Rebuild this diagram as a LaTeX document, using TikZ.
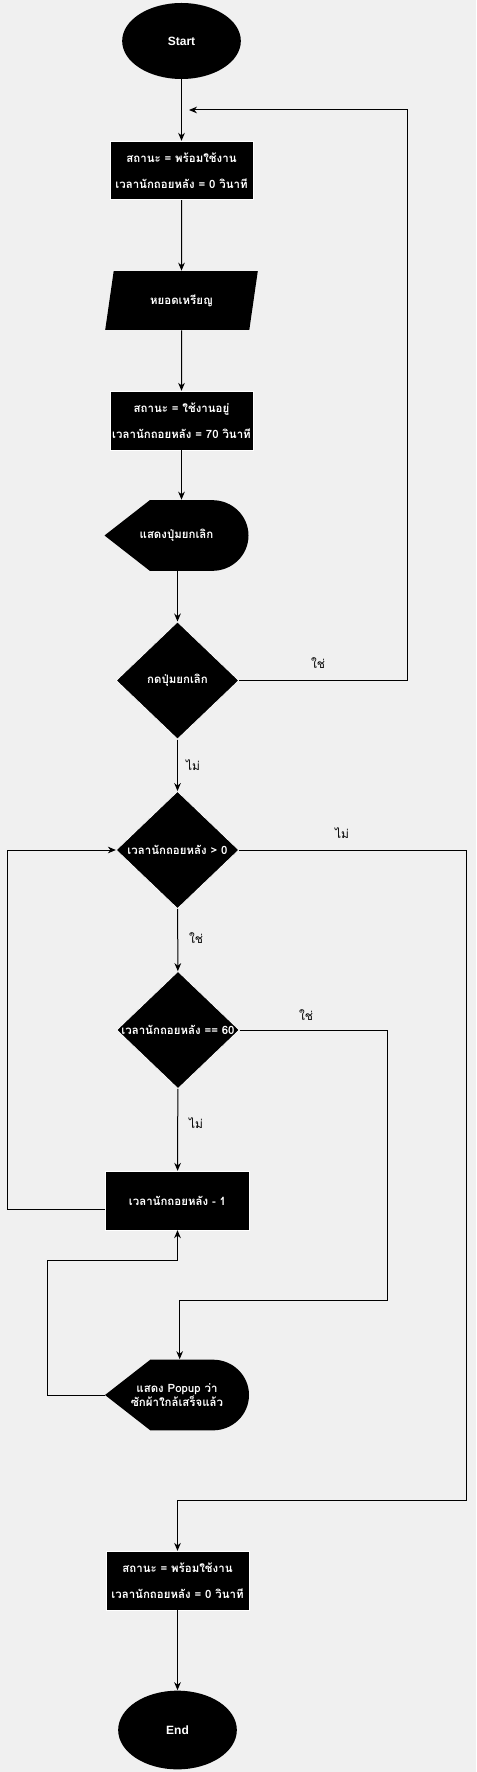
\documentclass[tikz,border=0pt]{standalone}
\usepackage{fontspec}
\setmainfont{Liberation Sans}
\newfontfamily\thai[Script=Thai]{Loma}
\usetikzlibrary{positioning, calc, shapes.geometric, arrows.meta}
\definecolor{bgcol}{RGB}{240,240,240}
\newcommand{\boxfont}{\thai\bfseries\fontsize{8.6pt}{10.5pt}\selectfont}

\begin{document}
\begin{tikzpicture}[x=0.75pt, y=-0.75pt, >={Stealth[length=6pt, width=5pt]}, line width=0.75pt]
        % Define block styles
        \tikzstyle{block} = [rectangle, fill=black, draw=white, line width=0.5pt, text=white, font=\boxfont, align=center, minimum width=107pt, minimum height=44pt, inner sep=1pt]
        \tikzstyle{term} = [ellipse, fill=black, text=white, font=\bfseries\small, minimum width=89pt, minimum height=57pt]
        \tikzstyle{io} = [trapezium, trapezium left angle=72, trapezium right angle=108, trapezium stretches=true, fill=black, text=white, font=\boxfont, minimum width=115pt, minimum height=44pt, inner sep=0pt]
        \tikzstyle{decision} = [diamond, fill=black, draw=white, line width=0.5pt, minimum width=92pt, minimum height=88pt, inner sep=0pt]
        \tikzstyle{disp} = [rectangle, text=white, font=\boxfont, align=center, minimum width=108pt, minimum height=53pt, inner sep=0pt,
            path picture={\fill[black] (path picture bounding box.west) -- ([xshift=34pt]path picture bounding box.north west) -- ([xshift=-27pt]path picture bounding box.north east) arc[start angle=90, end angle=-90, x radius=27pt, y radius=26.5pt] -- ([xshift=34pt]path picture bounding box.south west) -- cycle;}]
        \tikzstyle{answer} = [font=\thai\small, text=black]

        % Background
        \fill[bgcol] (0,0) rectangle (476,1772);
        \useasboundingbox (0,0) rectangle (476,1772);

        % Place nodes
        \node [term] (start) at (181.5,41) {Start};
        \node [block] (ready) at (181.5,170.5) {สถานะ = พร้อมใช้งาน\\[9pt]เวลานักถอยหลัง = 0 วินาที};
        \node [io] (coin) at (181.5,300.5) {หยอดเหรียญ};
        \node [block] (busy) at (181.5,420.5) {สถานะ = ใช้งานอยู่\\[9pt]เวลานักถอยหลัง = 70 วินาที};
        \node [disp] (showcancel) at (176.5,535.5) {แสดงปุ่มยกเลิก};
        \node [decision, label={[text=white, font=\boxfont]center:กดปุ่มยกเลิก}] (cancel) at (177.5,680.5) {};
        \node [decision, label={[text=white, font=\boxfont]center:เวลานักถอยหลัง > 0}] (running) at (177.5,850) {};
        \node [decision, label={[text=white, font=\boxfont]center:เวลานักถอยหลัง == 60}] (sixty) at (178,1030) {};
        \node [block, minimum width=108pt] (tick) at (177.5,1200.5) {เวลานักถอยหลัง - 1};
        \node [disp] (popup) at (177,1395) {แสดง Popup ว่า\\ซักผ้าใกล้เสร็จแล้ว};
        \node [block] (done) at (177.5,1580.5) {สถานะ = พร้อมใช้งาน\\[9pt]เวลานักถอยหลัง = 0 วินาที};
        \node [term, minimum height=59pt] (end) at (177.5,1730) {End};

        % Corner points of the loops
        \coordinate (backtop) at (407,110);
        \coordinate (join) at (189,110);
        \coordinate (outcorner) at (466,1500);
        \coordinate (popcorner) at (387,1300);
        \coordinate (loopleft) at (7,850);
        \coordinate (backleft) at (47,1260);

        % Draw connections as arrows
        \draw [->] (start) -- (ready);
        \draw [->] (ready) -- (coin);
        \draw [->] (coin) -- (busy);
        \draw [->] (busy.south) -- (busy.south |- showcancel.north);
        \draw [->] (showcancel.south -| cancel.north) -- (cancel.north);
        \draw [->] (cancel.east) -| (backtop) -- (join);
        \draw [->] (cancel) -- (running);
        \draw [->] (running.east) -| (outcorner) -| (done.north);
        \draw [->] (running) -- (sixty);
        \draw [->] (sixty.east) -| (popcorner) -| ([xshift=2pt]popup.north);
        \draw [->] (sixty) -- (tick);
        \draw [->] ([yshift=-7pt]tick.west) -| (loopleft) -- (running.west);
        \draw [->] (popup.west) -| (backleft) -| (tick.south);
        \draw [->] (done) -- (end);

        % Add text on the arrows
        \node [answer] (yes1) at (318,663) {ใช่};
        \node [answer] (no1) at (193,765) {ไม่};
        \node [answer] (no2) at (342,833) {ไม่};
        \node [answer] (yes2) at (196,938) {ใช่};
        \node [answer] (yes3) at (306,1015) {ใช่};
        \node [answer] (no3) at (196,1123) {ไม่};

    \end{tikzpicture}
\end{document}
